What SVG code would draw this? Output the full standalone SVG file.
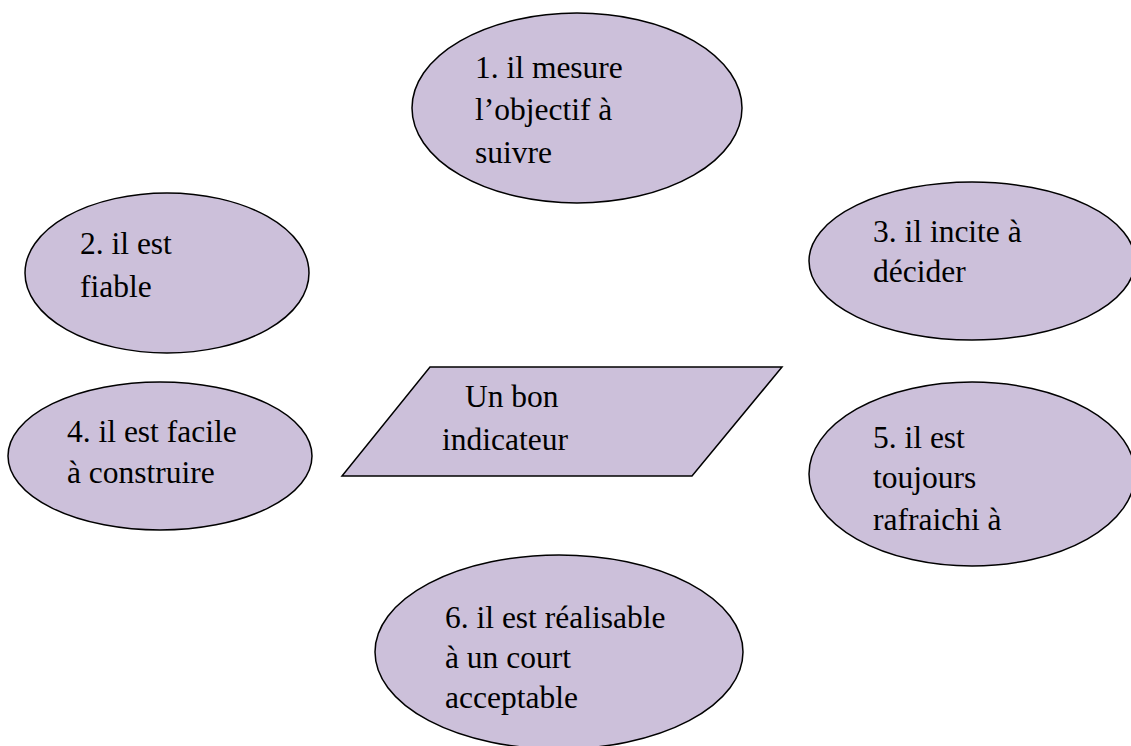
<svg xmlns="http://www.w3.org/2000/svg" width="1131" height="746" viewBox="0 0 1131 746">
  <style>
    .shape { fill: #CCC0DA; stroke: #000; stroke-width: 1.5; }
    .label { font-family: 'Liberation Serif', 'DejaVu Serif', serif; font-size: 31.5px; fill: #000; }
  </style>
  <rect width="1131" height="746" fill="#fff"/>
  <g id="connectors"></g>

  <g id="node-1">
    <ellipse class="shape" cx="577" cy="108" rx="165" ry="95"/>
    <text class="label" x="475" y="78">1. il mesure</text>
    <text class="label" x="475" y="120">l’objectif à</text>
    <text class="label" x="475" y="163">suivre</text>
  </g>

  <g id="node-2">
    <ellipse class="shape" cx="167" cy="273" rx="142" ry="80"/>
    <text class="label" x="80" y="254">2. il est</text>
    <text class="label" x="80" y="297">fiable</text>
  </g>

  <g id="node-3">
    <ellipse class="shape" cx="972" cy="261" rx="163" ry="79"/>
    <text class="label" x="873" y="242">3. il incite à</text>
    <text class="label" x="873" y="282">décider</text>
  </g>

  <g id="node-4">
    <ellipse class="shape" cx="160" cy="456" rx="152" ry="74"/>
    <text class="label" x="67" y="442">4. il est facile</text>
    <text class="label" x="67" y="483">à construire</text>
  </g>

  <g id="node-center">
    <polygon class="shape" points="430,367 782,367 692,476 342,476"/>
    <text class="label" x="465" y="407">Un bon</text>
    <text class="label" x="442" y="450">indicateur</text>
  </g>

  <g id="node-5">
    <ellipse class="shape" cx="972" cy="474" rx="163" ry="92"/>
    <text class="label" x="873" y="448">5. il est</text>
    <text class="label" x="873" y="488">toujours</text>
    <text class="label" x="873" y="530">rafraichi à</text>
  </g>

  <g id="node-6">
    <ellipse class="shape" cx="559" cy="652" rx="184" ry="97"/>
    <text class="label" x="445" y="628">6. il est réalisable</text>
    <text class="label" x="445" y="668">à un court</text>
    <text class="label" x="445" y="708">acceptable</text>
  </g>
</svg>
